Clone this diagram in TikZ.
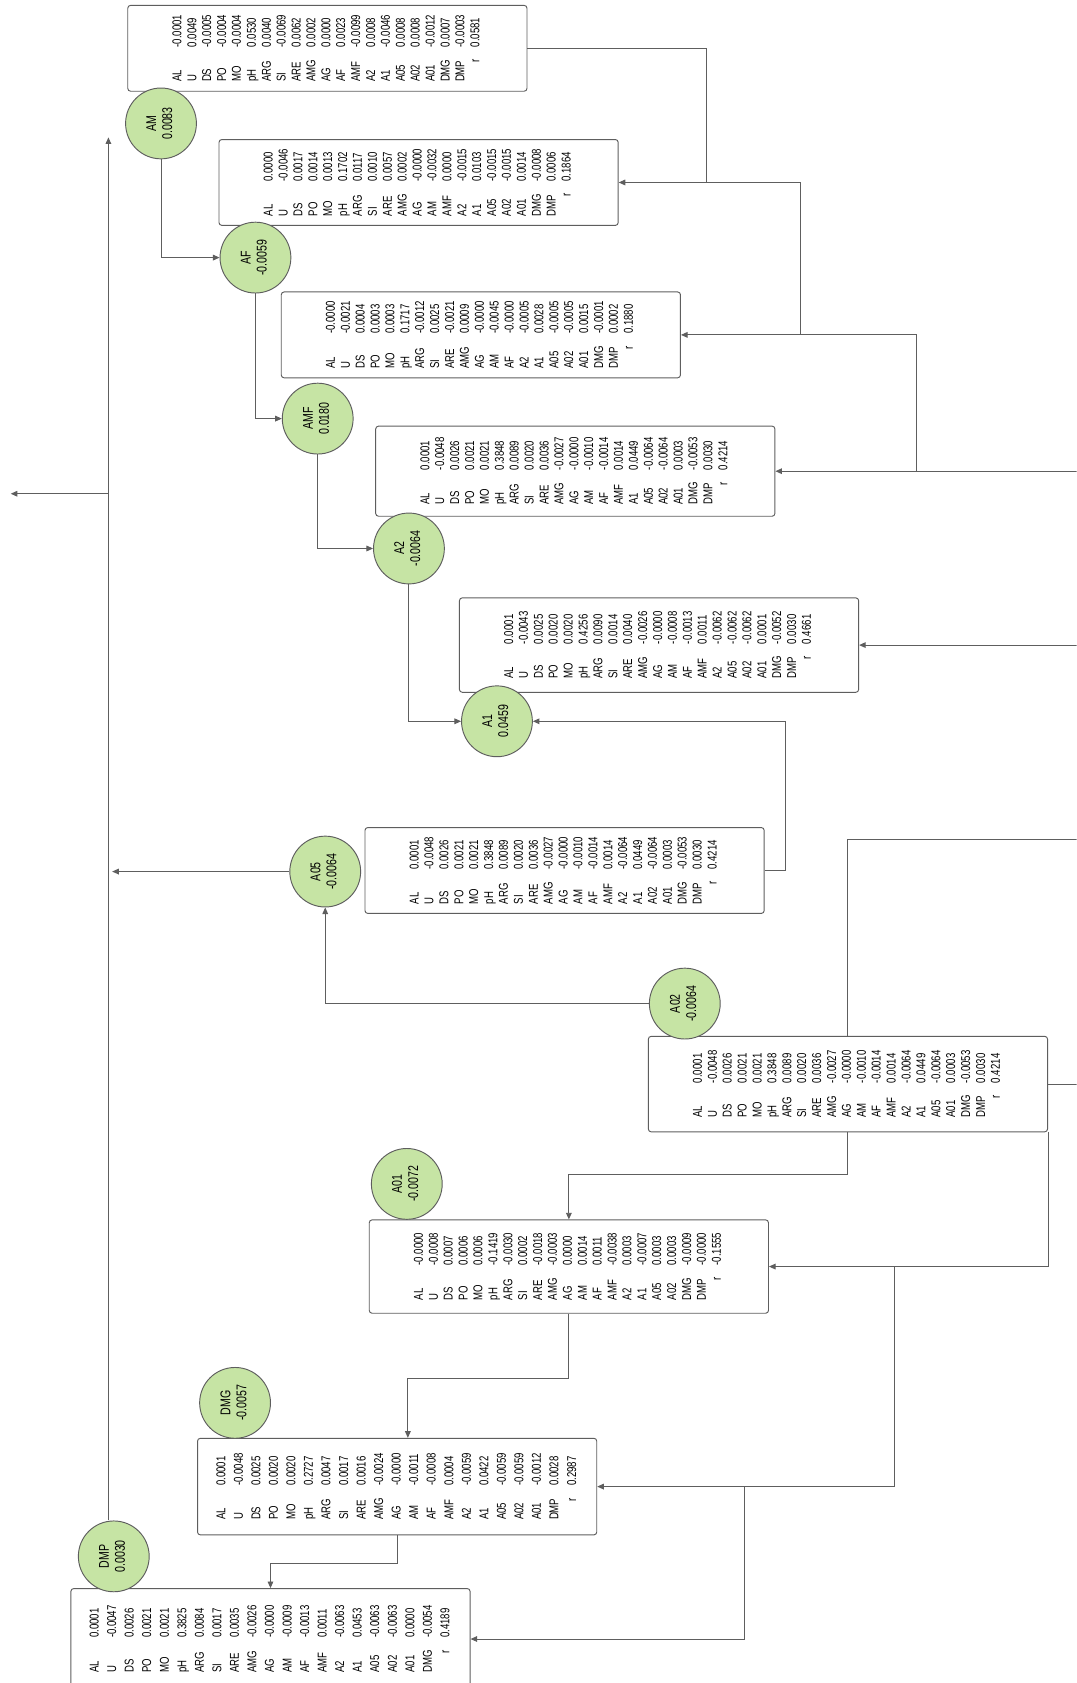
\documentclass[tikz,border=0pt]{standalone}
\usepackage{fontspec}
\setmainfont{Liberation Sans}
\newfontfamily\narrowsf[FakeStretch=0.75]{Liberation Sans}
\usepackage{graphicx}
\usetikzlibrary{arrows.meta, calc}

\definecolor{linegray}{HTML}{5E5E5E}
\definecolor{nodegreen}{HTML}{C6E4A4}

% rotated list of coefficients, one column per variable
\newcommand{\colvals}[2][7.9pt]{\rotatebox{90}{\narrowsf\fontsize{6.8}{#1}\selectfont
  \begin{tabular}{@{}l@{\hspace{6.5pt}}l@{}}#2\end{tabular}}}
% rotated label of a circle
\newcommand{\circval}[2]{\rotatebox{90}{\narrowsf\fontsize{7.5}{8.5}\selectfont
  \begin{tabular}{@{}c@{}}#1\\#2\end{tabular}}}

\begin{document}
\begin{tikzpicture}[x=0.02cm, y=-0.02cm,
  tab/.style={draw=linegray, rounded corners=1.5pt, fill=white, inner sep=0pt, minimum width=7.44cm, line width=0.5pt},
  var/.style={circle, draw=linegray, fill=nodegreen, minimum size=1.32cm, inner sep=0pt, line width=0.5pt},
  conn/.style={draw=linegray, line width=0.5pt},
  arr/.style={conn, -{Triangle[width=3pt,length=3.5pt]}}]

% Fix the page and cut what runs over its edges
\useasboundingbox (0,0) rectangle (1003,1568);
\fill[white] (0,0) rectangle (1003,1568);
\clip (0,0) rectangle (1003,1568);

% Coordinates for the trunk on the left and the right edge
\coordinate (trunk) at (101,128);
\coordinate (out) at (10,460);
\coordinate (edge) at (1010,0);

% The tables
\node[tab, minimum height=1.6cm] (tabAM) at (305,45) {\colvals{
AL & -0.0001\\ U & 0.0049\\ DS & -0.0005\\ PO & -0.0004\\ MO & -0.0004\\ pH & 0.0530\\ ARG & 0.0040\\ SI & -0.0069\\ ARE & 0.0062\\ AMG & 0.0002\\ AG & 0.0000\\ AF & 0.0023\\ AMF & -0.0099\\ A2 & 0.0008\\ A1 & -0.0046\\ A05 & 0.0008\\ A02 & 0.0008\\ A01 & -0.0012\\ DMG & 0.0007\\ DMP & -0.0003\\ \hfill r & 0.0581}};

\node[tab, minimum height=1.6cm] (tabAF) at (390,170) {\colvals{
AL & 0.0000\\ U & -0.0046\\ DS & 0.0017\\ PO & 0.0014\\ MO & 0.0013\\ pH & 0.1702\\ ARG & 0.0117\\ SI & 0.0010\\ ARE & 0.0057\\ AMG & 0.0002\\ AG & -0.0000\\ AM & -0.0032\\ AMF & 0.0000\\ A2 & -0.0015\\ A1 & 0.0103\\ A05 & -0.0015\\ A02 & -0.0015\\ A01 & 0.0014\\ DMG & -0.0008\\ DMP & 0.0006\\ \hfill r & 0.1864}};

\node[tab, minimum height=1.6cm] (tabAMF) at (448,312) {\colvals{
AL & -0.0000\\ U & -0.0021\\ DS & 0.0004\\ PO & 0.0003\\ MO & 0.0003\\ pH & 0.1717\\ ARG & -0.0012\\ SI & 0.0025\\ ARE & -0.0021\\ AMG & 0.0009\\ AG & -0.0000\\ AM & -0.0045\\ AF & -0.0000\\ A2 & -0.0005\\ A1 & 0.0028\\ A05 & -0.0005\\ A02 & -0.0005\\ A01 & 0.0015\\ DMG & -0.0001\\ DMP & 0.0002\\ \hfill r & 0.1880}};

\node[tab, minimum height=1.68cm] (tabA2) at (536,439) {\colvals{
AL & 0.0001\\ U & -0.0048\\ DS & 0.0026\\ PO & 0.0021\\ MO & 0.0021\\ pH & 0.3848\\ ARG & 0.0089\\ SI & 0.0020\\ ARE & 0.0036\\ AMG & -0.0027\\ AG & -0.0000\\ AM & -0.0010\\ AF & -0.0014\\ AMF & 0.0014\\ A1 & 0.0449\\ A05 & -0.0064\\ A02 & -0.0064\\ A01 & 0.0003\\ DMG & -0.0053\\ DMP & 0.0030\\ \hfill r & 0.4214}};

\node[tab, minimum height=1.76cm] (tabA1) at (614,601) {\colvals{
AL & 0.0001\\ U & -0.0043\\ DS & 0.0025\\ PO & 0.0020\\ MO & 0.0020\\ pH & 0.4256\\ ARG & 0.0090\\ SI & 0.0014\\ ARE & 0.0040\\ AMG & -0.0026\\ AG & -0.0000\\ AM & -0.0008\\ AF & -0.0013\\ AMF & 0.0011\\ A2 & -0.0062\\ A05 & -0.0062\\ A02 & -0.0062\\ A01 & 0.0001\\ DMG & -0.0052\\ DMP & 0.0030\\ \hfill r & 0.4661}};

\node[tab, minimum height=1.6cm] (tabA05) at (526,811) {\colvals{
AL & 0.0001\\ U & -0.0048\\ DS & 0.0026\\ PO & 0.0021\\ MO & 0.0021\\ pH & 0.3848\\ ARG & 0.0089\\ SI & 0.0020\\ ARE & 0.0036\\ AMG & -0.0027\\ AG & -0.0000\\ AM & -0.0010\\ AF & -0.0014\\ AMF & 0.0014\\ A2 & -0.0064\\ A1 & 0.0449\\ A02 & -0.0064\\ A01 & 0.0003\\ DMG & -0.0053\\ DMP & 0.0030\\ \hfill r & 0.4214}};

\node[tab, minimum height=1.78cm] (tabA02) at (790,1010) {\colvals{
AL & 0.0001\\ U & -0.0048\\ DS & 0.0026\\ PO & 0.0021\\ MO & 0.0021\\ pH & 0.3848\\ ARG & 0.0089\\ SI & 0.0020\\ ARE & 0.0036\\ AMG & -0.0027\\ AG & -0.0000\\ AM & -0.0010\\ AF & -0.0014\\ AMF & 0.0014\\ A2 & -0.0064\\ A1 & 0.0449\\ A05 & -0.0064\\ A01 & 0.0003\\ DMG & -0.0053\\ DMP & 0.0030\\ \hfill r & 0.4214}};

\node[tab, minimum height=1.74cm] (tabA01) at (530,1180) {\colvals{
AL & -0.0000\\ U & -0.0008\\ DS & 0.0007\\ PO & 0.0006\\ MO & 0.0006\\ pH & -0.1419\\ ARG & -0.0030\\ SI & 0.0002\\ ARE & -0.0018\\ AMG & -0.0003\\ AG & 0.0000\\ AM & 0.0014\\ AF & 0.0011\\ AMF & -0.0038\\ A2 & 0.0003\\ A1 & -0.0007\\ A05 & 0.0003\\ A02 & 0.0003\\ DMG & -0.0009\\ DMP & -0.0000\\ \hfill r & -0.1555}};

\node[tab, minimum height=1.8cm] (tabDMG) at (370,1385) {\colvals[9.3pt]{
AL & 0.0001\\ U & -0.0048\\ DS & 0.0025\\ PO & 0.0020\\ MO & 0.0020\\ pH & 0.2727\\ ARG & 0.0047\\ SI & 0.0017\\ ARE & 0.0016\\ AMG & -0.0024\\ AG & -0.0000\\ AM & -0.0011\\ AF & -0.0008\\ AMF & 0.0004\\ A2 & -0.0059\\ A1 & 0.0422\\ A05 & -0.0059\\ A02 & -0.0059\\ A01 & -0.0012\\ DMP & 0.0028\\ \hfill r & 0.2987}};

\node[tab, minimum height=1.88cm] (tabDMP) at (252,1527) {\colvals[9.3pt]{
AL & 0.0001\\ U & -0.0047\\ DS & 0.0026\\ PO & 0.0021\\ MO & 0.0021\\ pH & 0.3825\\ ARG & 0.0084\\ SI & 0.0017\\ ARE & 0.0035\\ AMG & -0.0026\\ AG & -0.0000\\ AM & -0.0009\\ AF & -0.0013\\ AMF & 0.0011\\ A2 & -0.0063\\ A1 & 0.0453\\ A05 & -0.0063\\ A02 & -0.0063\\ A01 & 0.0000\\ DMG & -0.0054\\ \hfill r & 0.4189}};

% The removed variables
\node[var] (cAM) at (150,115) {\circval{AM}{0.0083}};
\node[var] (cAF) at (238,240) {\circval{AF}{-0.0059}};
\node[var] (cAMF) at (296,390) {\circval{AMF}{0.0180}};
\node[var] (cA2) at (381,511) {\circval{A2}{-0.0064}};
\node[var] (cA1) at (463,672) {\circval{A1}{0.0459}};
\node[var] (cA05) at (303,812) {\circval{A05}{-0.0064}};
\node[var] (cA02) at (638,935) {\circval{A02}{-0.0064}};
\node[var] (cA01) at (379,1103) {\circval{A01}{-0.0072}};
\node[var] (cDMG) at (219,1307) {\circval{DMG}{-0.0057}};
\node[var] (cDMP) at (106,1450) {\circval{DMP}{0.0030}};

% Chain of circles
\draw[arr] (cAM.south) |- (cAF.west);
\draw[arr] (cAF.south) |- (cAMF.west);
\draw[arr] (cAMF.south) |- (cA2.west);
\draw[arr] (cA2.south) |- (cA1.west);
\draw[arr] (tabA05.east) -- ++(19,0) |- (cA1.east);
\draw[arr] (cA02.west) -| (cA05.south);

% Trunk on the left
\draw[arr] (cDMP.north -| trunk) -- (trunk);
\draw[arr] (out -| trunk) -- (out);
\draw[arr] (cA05.west) -- ([xshift=2pt]cA05.west -| trunk);

% Lines on the right of the upper tables
\draw[conn] (tabAM.east) -| ($(tabAF.east)+(82,0)$);
\draw[arr] ($(tabAMF.east)+(111,0)$) |- (tabAF.east);
\draw[arr] ($(tabA2.east)+(131,0)$) |- (tabAMF.east);
\draw[arr] (tabA2.east -| edge) -- (tabA2.east);
\draw[arr] (tabA1.east -| edge) -- (tabA1.east);

% Lines of the lower tables
\draw[conn] (tabA02.north) |- ++(220,-183);
\draw[conn] (tabA02.east) -- (tabA02.east -| edge);
\draw[arr] (tabA02.south east) |- (tabA01.east);
\draw[arr] ($(tabA01.east)+(117,0)$) |- (tabDMG.east);
\draw[arr] ($(tabDMG.east)+(137,0)$) |- (tabDMP.east);
\draw[arr] (tabA02.south) -- ++(0,39) -| (tabA01.north);
\draw[arr] (tabA01.south) -- ++(0,60) -| ($(tabDMG.north)+(10,0)$);
\draw[arr] (tabDMG.south) -- ++(0,26) -| (tabDMP.north);

\end{tikzpicture}
\end{document}
